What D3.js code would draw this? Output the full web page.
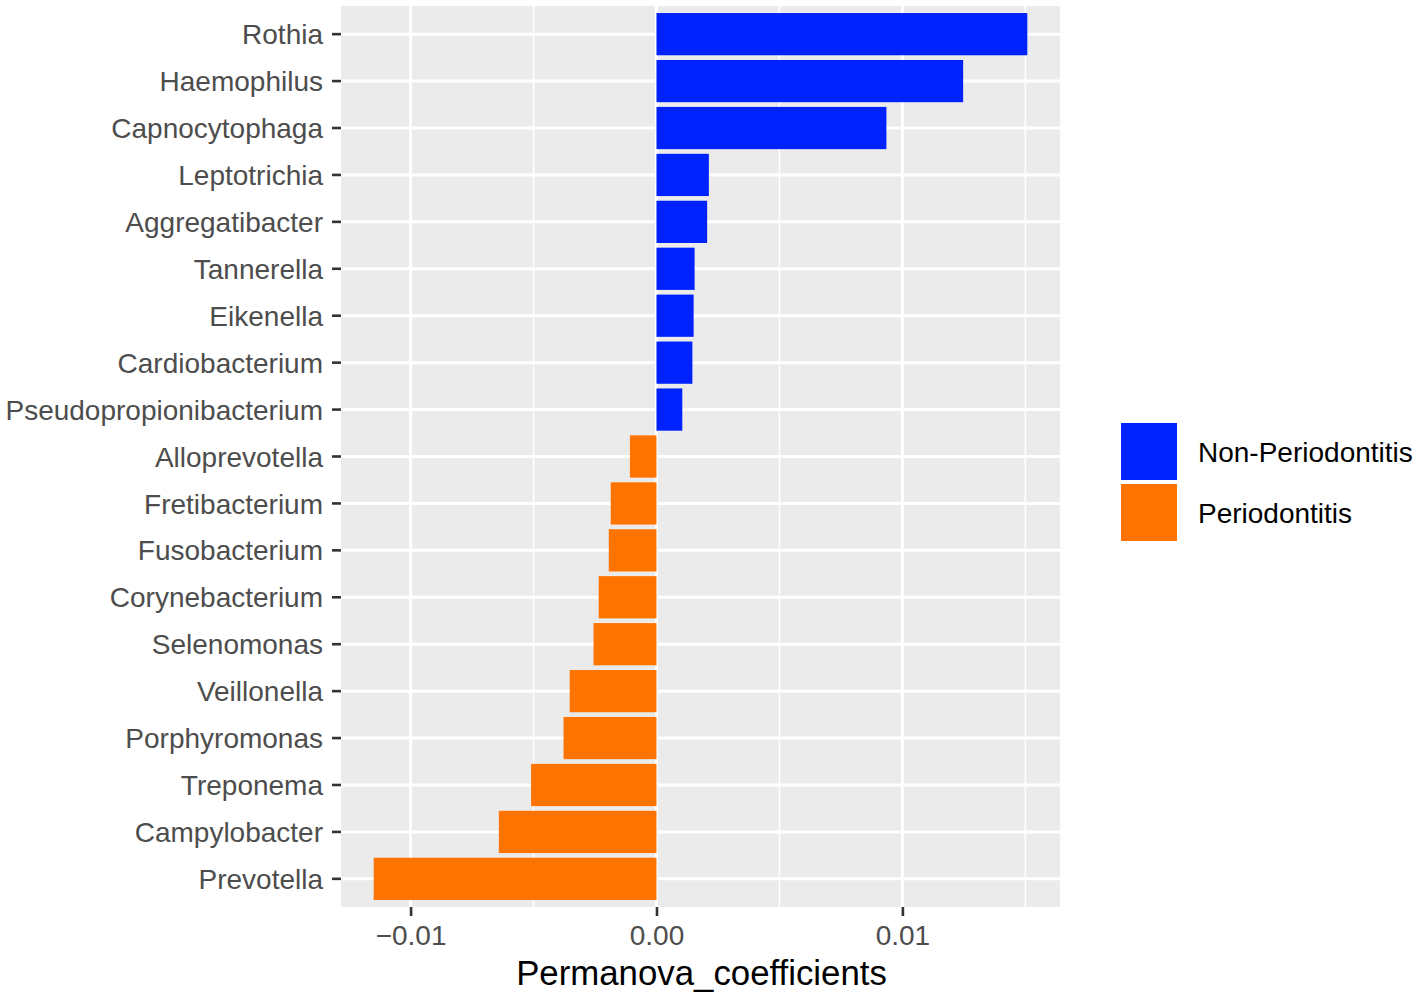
<!DOCTYPE html>
<html>
<head>
<meta charset="utf-8">
<script src="https://cdn.jsdelivr.net/npm/d3@7"></script>
<style>
  body { margin: 0; background: #fff; }
  svg { font-family: "Liberation Sans", Arial, Helvetica, sans-serif; }
</style>
</head>
<body>
<svg id="chart" width="1418" height="996"></svg>
<script>
// genera, top to bottom
var genera = ["Rothia", "Haemophilus", "Capnocytophaga", "Leptotrichia", "Aggregatibacter",
    "Tannerella", "Eikenella", "Cardiobacterium", "Pseudopropionibacterium", "Alloprevotella",
    "Fretibacterium", "Fusobacterium", "Corynebacterium", "Selenomonas", "Veillonella",
    "Porphyromonas", "Treponema", "Campylobacter", "Prevotella"];
var coefficients = [0.01508, 0.01247, 0.00935, 0.00213, 0.00206,
    0.00155, 0.00151, 0.00146, 0.00105, -0.00108,
    -0.00186, -0.00194, -0.00235, -0.00256, -0.00353,
    -0.00378, -0.0051, -0.00641, -0.0115];
var groups = ["Non-Periodontitis", "Periodontitis"];
var groupColors = ["#0022ff", "#ff7300"];
var xTicks = [-0.01, 0, 0.01];
var xMinor = [-0.005, 0.005, 0.015];

var svg = d3.select("#chart");

// panel box
var panel = {left: 341, right: 1060, top: 6, bottom: 907};

// x scale with ggplot style 5% expansion
var lo = d3.min(coefficients), hi = d3.max(coefficients);
var pad = (hi - lo) * 0.05;
var x = d3.scaleLinear()
    .domain([lo - pad, hi + pad])
    .range([panel.left, panel.right]);

var y = d3.scaleBand()
    .domain(genera)
    .range([panel.top, panel.bottom])
    .paddingInner(0.1)
    .paddingOuter(0.15);

var color = d3.scaleOrdinal().domain(groups).range(groupColors);

// panel background
svg.append("rect")
    .attr("x", panel.left).attr("y", panel.top)
    .attr("width", panel.right - panel.left)
    .attr("height", panel.bottom - panel.top)
    .attr("fill", "#ebebeb");

// minor grid
svg.selectAll(".minor")
    .data(xMinor)
    .enter().append("line")
    .attr("class", "minor")
    .attr("x1", function(d) { return x(d); })
    .attr("x2", function(d) { return x(d); })
    .attr("y1", panel.top).attr("y2", panel.bottom)
    .attr("stroke", "#fff").attr("stroke-width", 1.6);

// major grid
svg.selectAll(".vmajor")
    .data(xTicks)
    .enter().append("line")
    .attr("class", "vmajor")
    .attr("x1", function(d) { return x(d); })
    .attr("x2", function(d) { return x(d); })
    .attr("y1", panel.top).attr("y2", panel.bottom)
    .attr("stroke", "#fff").attr("stroke-width", 3);

svg.selectAll(".hmajor")
    .data(genera)
    .enter().append("line")
    .attr("class", "hmajor")
    .attr("x1", panel.left).attr("x2", panel.right)
    .attr("y1", function(d) { return y(d) + y.bandwidth() / 2; })
    .attr("y2", function(d) { return y(d) + y.bandwidth() / 2; })
    .attr("stroke", "#fff").attr("stroke-width", 3);

// bars
svg.selectAll(".bar")
    .data(genera)
    .enter().append("rect")
    .attr("class", "bar")
    .attr("x", function(d, i) { return x(Math.min(0, coefficients[i])); })
    .attr("width", function(d, i) { return Math.abs(x(coefficients[i]) - x(0)); })
    .attr("y", function(d) { return y(d); })
    .attr("height", y.bandwidth())
    .attr("fill", function(d, i) { return color(coefficients[i] > 0 ? groups[0] : groups[1]); });

// y axis
var yAxis = d3.axisLeft(y).tickSize(9).tickPadding(9);
var gy = svg.append("g")
    .attr("transform", "translate(" + panel.left + ",0)")
    .call(yAxis);
gy.select(".domain").remove();
gy.selectAll(".tick line").attr("stroke", "#333").attr("stroke-width", 2.6);
gy.selectAll(".tick text")
    .attr("fill", "#4d4d4d")
    .attr("dy", "0.36em")
    .style("font-size", "28px");

// x axis
var xAxis = d3.axisBottom(x)
    .tickValues(xTicks)
    .tickSize(9).tickPadding(9)
    .tickFormat(function(d) { return d === 0 ? "0.00" : d3.format(".2f")(d).replace("-", "\u2013"); });
var gx = svg.append("g")
    .attr("transform", "translate(0," + panel.bottom + ")")
    .call(xAxis);
gx.select(".domain").remove();
gx.selectAll(".tick line").attr("stroke", "#333").attr("stroke-width", 2.6);
gx.selectAll(".tick text")
    .attr("fill", "#4d4d4d")
    .style("font-size", "28px");

// x title
svg.append("text")
    .attr("x", (panel.left + panel.right) / 2 + 1)
    .attr("y", 985)
    .attr("text-anchor", "middle")
    .style("font-size", "34.8px")
    .attr("fill", "#000")
    .text("Permanova_coefficients");

// legend
var legend = svg.append("g")
    .attr("transform", "translate(1119,421)");

var item = legend.selectAll(".item")
    .data(groups)
    .enter().append("g")
    .attr("class", "item")
    .attr("transform", function(d, i) { return "translate(0," + (i * 61) + ")"; });

item.append("rect")
    .attr("x", 1).attr("y", 1)
    .attr("width", 58).attr("height", 59)
    .attr("fill", function(d) { return color(d); })
    .attr("stroke", "#fff").attr("stroke-width", 2);

item.append("text")
    .attr("x", 79)
    .attr("y", 31)
    .attr("dy", "0.35em")
    .style("font-size", "28px")
    .attr("fill", "#000")
    .text(function(d) { return d; });
</script>
</body>
</html>
